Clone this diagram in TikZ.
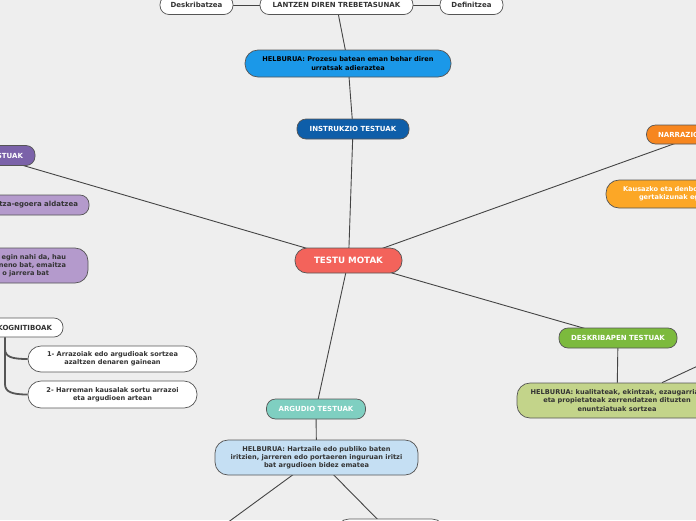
\documentclass[tikz,border=0pt]{standalone}
\usepackage{fontspec}
\setmainfont{DejaVu Sans}
\usetikzlibrary{backgrounds}
\definecolor{bgc}{HTML}{EEEEEE}
\definecolor{bordc}{HTML}{555555}
\definecolor{linec}{HTML}{444444}
\definecolor{txtc}{HTML}{333333}
\definecolor{cblue}{HTML}{1B98E8}
\definecolor{cdblue}{HTML}{0E5EA9}
\definecolor{cred}{HTML}{F3635B}
\definecolor{cpurple}{HTML}{7B62A9}
\definecolor{clpurple}{HTML}{B49ACC}
\definecolor{corange}{HTML}{F7861F}
\definecolor{cyorange}{HTML}{FCA726}
\definecolor{cgreen}{HTML}{7CBA3D}
\definecolor{colive}{HTML}{C3D48A}
\definecolor{cteal}{HTML}{7FCFC1}
\definecolor{clight}{HTML}{C5DFF3}
\tikzset{
  nb/.style={draw=bordc, line width=0.7pt, inner sep=0pt, align=center,
    font=\fontsize{7}{8.2}\selectfont\bfseries, text=txtc},
  pill/.style={nb, rounded corners=9pt},
  tall/.style={nb, rounded corners=13pt, font=\fontsize{6.6}{8.2}\selectfont\bfseries},
  conn/.style={draw=linec, line width=0.9pt},
  kconn/.style={draw=bordc, line width=1.8pt},
}
\begin{document}
\begin{tikzpicture}[x=1pt,y=-1pt]
\path[use as bounding box] (0,0) rectangle (696,520);
% top row
\node[pill, fill=white, minimum width=73pt, minimum height=19pt] (desk) at (196.5,5) {Deskribatzea};
\node[pill, fill=white, minimum width=153pt, minimum height=19pt] (lantzen) at (336.5,5) {LANTZEN DIREN TREBETASUNAK};
\node[pill, fill=white, minimum width=63pt, minimum height=19pt] (def) at (471.5,5) {Definitzea};
\node[tall, fill=cblue, text=black, minimum width=206pt, minimum height=27pt] (hinst) at (348,63.5) {HELBURUA: Prozesu batean eman behar diren\\urratsak adieraztea};
\node[pill, fill=cdblue, text=white, minimum width=112pt, minimum height=20pt] (instr) at (353,129) {INSTRUKZIO TESTUAK};
% root
\node[pill, fill=cred, text=white, minimum width=107pt, minimum height=25pt, rounded corners=12pt, font=\fontsize{8.7}{10}\selectfont\bfseries] (root) at (348.5,260.5) {TESTU MOTAK};
% left (purple)
\node[pill, fill=cpurple, text=white, minimum width=92pt, minimum height=20pt, text width=68pt, align=right] (azal) at (-11,155.5) {STUAK};
\node[pill, fill=clpurple, minimum width=160pt, minimum height=20pt, text width=138pt, align=right] (azalh) at (9,205) {ntza-egoera aldatzea};
\node[tall, fill=clpurple, minimum width=160pt, minimum height=35pt, text width=116pt, align=right] (azalc) at (8,265.5) {egin nahi da, hau\\neno bat, emaitza\hspace*{2pt}\\o jarrera bat\hspace*{17pt}};
\node[pill, fill=white, minimum width=120pt, minimum height=19pt, text width=98pt, align=right] (kogn) at (3,327.5) {KOGNITIBOAK};
\node[tall, fill=white, minimum width=169pt, minimum height=26pt] (c1) at (112.5,359) {1- Arrazoiak edo argudioak sortzea\\azaltzen denaren gainean};
\node[tall, fill=white, minimum width=169pt, minimum height=27pt] (c2) at (112.5,394.5) {2- Harreman kausalak sortu arrazoi\\eta argudioen artean};
% right (orange)
\node[pill, fill=corange, text=white, minimum width=107pt, minimum height=19pt, text width=84pt, align=left] (narr) at (700,134.5) {NARRAZIO};
\node[tall, fill=cyorange, text=white, minimum width=180pt, minimum height=28pt, text width=146pt, align=left] (narrh) at (696,194) {Kausazko eta denbo\\\hspace*{16pt}gertakizunak eg};
% right (green)
\node[pill, fill=cgreen, text=white, minimum width=118pt, minimum height=20pt] (deskr) at (618,338) {DESKRIBAPEN TESTUAK};
\node[tall, fill=colive, minimum width=200pt, minimum height=35pt] (hdesk) at (617,400.5) {HELBURUA: kualitateak, ekintzak, ezaugarriak\\eta propietateak zerrendatzen dituzten\\enuntziatuak sortzea};
% bottom (teal)
\node[pill, fill=cteal, text=white, minimum width=99pt, minimum height=20pt] (arg) at (316,409) {ARGUDIO TESTUAK};
\node[tall, fill=clight, minimum width=203pt, minimum height=35pt] (hargu) at (316.5,457.5) {HELBURUA: Hartzaile edo publiko baten\\iritzien, jarreren edo portaeren inguruan iritzi\\bat argudioen bidez ematea};
\node[tall, fill=white, minimum width=109pt, minimum height=27pt] (argb) at (390.5,532.5) {};
\coordinate (argl) at (160,572);
\coordinate (dright) at (760,337);
\begin{pgfonlayer}{background}
\fill[bgc] (0,0) rectangle (696,520);
\draw[conn] (desk.center) -- (lantzen.center);
\draw[conn] (lantzen.center) -- (def.center);
\draw[conn] (lantzen.center) -- (hinst.center);
\draw[conn] (hinst.center) -- (instr.center);
\draw[conn] (instr.center) -- (root.center);
\draw[conn] (root.center) -- (azal.center);
\draw[conn] (root.center) -- (narr.center);
\draw[conn] (root.center) -- (deskr.center);
\draw[conn] (root.center) -- (arg.center);
\draw[conn] (arg.center) -- (hargu.center);
\draw[conn] (hargu.center) -- (argl);
\draw[conn] (hargu.center) -- (argb.center);
\draw[conn] (deskr.center) -- (hdesk.center);
\draw[conn] ([xshift=45pt]hdesk.north) -- (dright);
\draw[kconn] ([xshift=2pt]kogn.south) -- (5,349) .. controls (5,357) and (12,359) .. (c1.west);
\draw[kconn] ([xshift=2pt]kogn.south) -- (5,384) .. controls (5,392) and (12,394.5) .. (c2.west);
\end{pgfonlayer}
\end{tikzpicture}
\end{document}
